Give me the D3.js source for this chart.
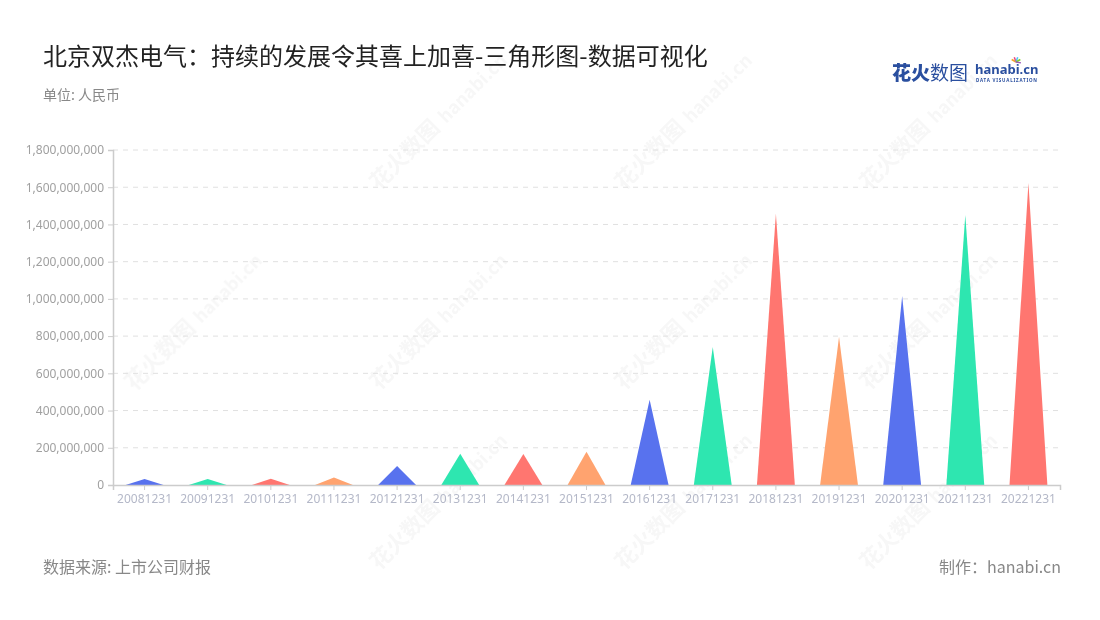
<!DOCTYPE html>
<html><head><meta charset="utf-8">
<script src="https://cdn.jsdelivr.net/npm/d3@7"></script>
<style>body{margin:0;background:#fff;font-family:"Noto Sans CJK SC","Noto Sans",sans-serif;}</style>
</head><body><svg id="c" width="1100" height="620"></svg>
<script>
const categories = ["20081231","20091231","20101231","20111231","20121231","20131231","20141231","20151231","20161231","20171231","20181231","20191231","20201231","20211231","20221231"];
const values = [32000000,32000000,34000000,40000000,102000000,168000000,166000000,179000000,458000000,742000000,1458000000,795000000,1016000000,1451000000,1623000000];
const yTicks = [0,200000000,400000000,600000000,800000000,1000000000,1200000000,1400000000,1600000000,1800000000];
const palette = ["#5872EE","#2EE6B0","#FF7670","#FFA36F"];

const svg = d3.select("#c");
const m = {l:113, r:1060, t:150, b:485};
const x = d3.scaleBand().domain(categories).range([m.l, m.r]);
const y = d3.scaleLinear().domain([0, 1800000000]).range([m.b, m.t]);

// watermarks
const wm = svg.append("g").attr("opacity",0.05).attr("fill","#555");
[[410,160],[655,160],[900,160],[165,360],[410,360],[655,360],[900,360],[410,540],[655,540],[900,540]].forEach(([wx,wy])=>{
  const g = wm.append("g").attr("transform",`translate(${wx},${wy}) rotate(-45)`);
  g.append("text").attr("font-size",22).attr("font-weight",700).attr("text-anchor","middle").text("花火数图");
  g.append("text").attr("x",95).attr("font-size",18).attr("font-weight",700).attr("text-anchor","middle").text("hanabi.cn");
});

// grid
svg.append("g").selectAll("line").data(yTicks.slice(1)).join("line")
  .attr("x1", m.l).attr("x2", m.r).attr("y1", d=>y(d)).attr("y2", d=>y(d))
  .attr("stroke","#e0e0e0").attr("stroke-dasharray","5,5");

// y axis
const ya = svg.append("g").attr("transform",`translate(${m.l},0)`)
  .call(d3.axisLeft(y).tickValues(yTicks).tickSize(5).tickPadding(4).tickFormat(d3.format(",")));
ya.select(".domain").attr("stroke","#ccc").attr("stroke-width",1.5);
ya.selectAll(".tick line").attr("stroke","#ccc");
ya.selectAll("text").attr("fill","#a0a0a0").attr("font-size",12).attr("font-family","'Noto Sans',sans-serif");

// triangles
const tw = x.bandwidth()*0.6;
svg.append("g").selectAll("path").data(categories).join("path")
  .attr("d",(d,i)=>{const cx = x(d)+x.bandwidth()/2; return `M${cx-tw/2},${y(0)} L${cx},${y(values[i])} L${cx+tw/2},${y(0)} Z`;})
  .attr("fill",(d,i)=>palette[i%4]);

// x axis
const xa = svg.append("g").attr("transform",`translate(0,${m.b})`)
  .call(d3.axisBottom(x).tickSize(5).tickPadding(4));
xa.select(".domain").attr("stroke","#ccc").attr("stroke-width",1.5);
xa.selectAll(".tick line").attr("stroke","#ccc");
xa.selectAll("text").attr("fill","#b4b8c8").attr("font-size",12).attr("font-family","'Noto Sans',sans-serif");

// titles
svg.append("text").attr("x",43).attr("y",65).attr("font-size",24).attr("fill","#222")
  .text("北京双杰电气：持续的发展令其喜上加喜-三角形图-数据可视化");
svg.append("text").attr("x",43).attr("y",100).attr("font-size",14).attr("fill","#888").text("单位: 人民币");
svg.append("text").attr("x",43).attr("y",573).attr("font-size",16).attr("fill","#888").text("数据来源: 上市公司财报");
svg.append("text").attr("x",1061).attr("y",573).attr("font-size",16).attr("fill","#888").attr("text-anchor","end").text("制作：hanabi.cn");

// logo
const lg = svg.append("g");
lg.append("text").attr("x",892).attr("y",80).attr("font-size",19).attr("font-weight",900).attr("fill","#2a4f9f").text("花火");
lg.append("text").attr("x",930).attr("y",80).attr("font-size",19).attr("fill","#2a4f9f").text("数图");
lg.append("text").attr("x",975).attr("y",74).attr("font-size",13).attr("font-weight",700).attr("fill","#2a4f9f").attr("font-family","'Noto Sans',sans-serif").text("hanabi.cn");
lg.append("text").attr("x",976).attr("y",82).attr("font-size",4.5).attr("font-weight",700).attr("fill","#2a4f9f").attr("font-family","'Noto Sans',sans-serif").attr("letter-spacing",0.8).text("DATA VISUALIZATION");
[["#f5a623",-60],["#e84a7f",-20],["#4fc3f7",20],["#7ed321",60],["#9b59b6",100]].forEach(([c,a])=>{
  lg.append("line").attr("x1",1016).attr("y1",62).attr("x2",1016+5*Math.cos(a*Math.PI/180-Math.PI/2)).attr("y2",62+5*Math.sin(a*Math.PI/180-Math.PI/2)).attr("stroke",c).attr("stroke-width",1.5);
});
</script></body></html>
